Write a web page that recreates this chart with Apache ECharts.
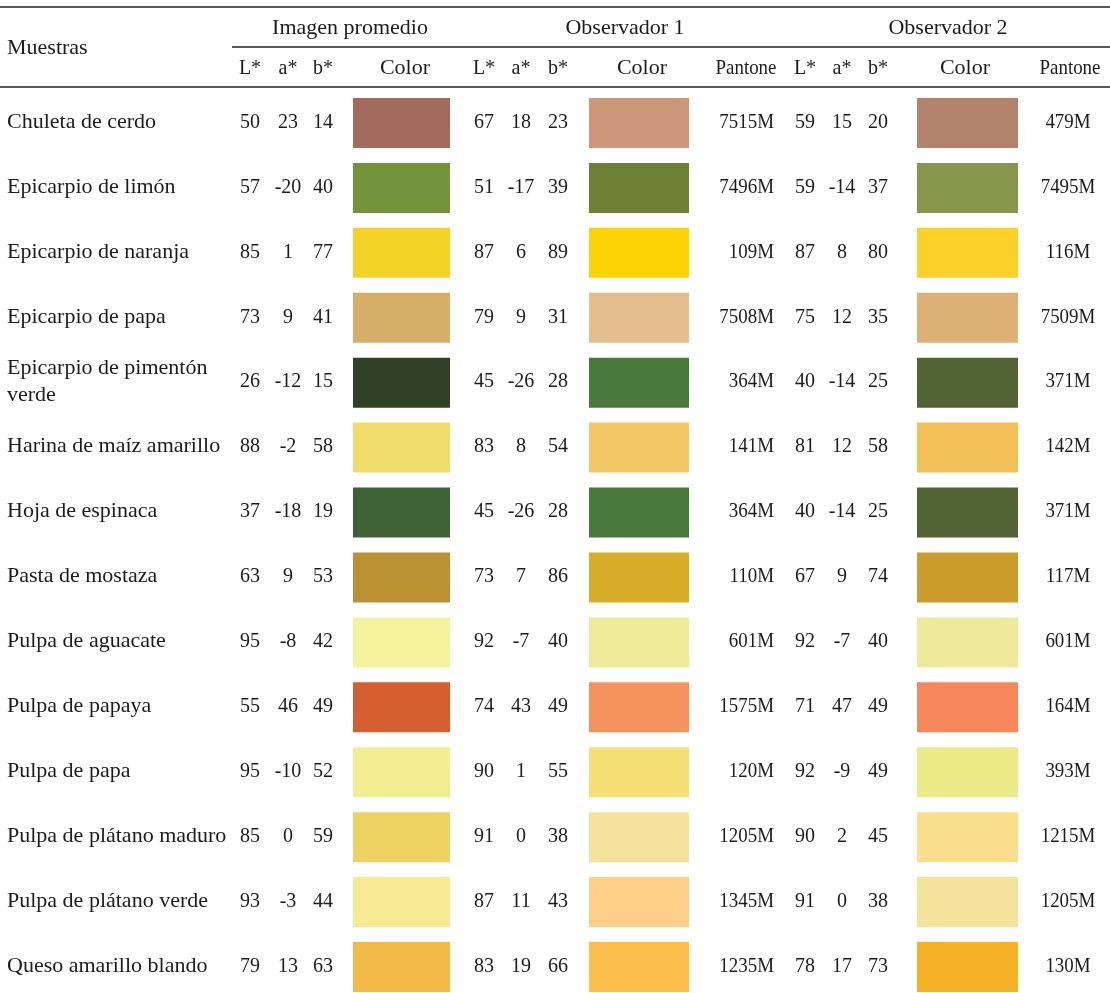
<!DOCTYPE html>
<html>
<head>
<meta charset="utf-8">
<title>Muestras - color</title>
<script src="https://cdn.jsdelivr.net/npm/echarts@6/dist/echarts.min.js"></script>
<style>
  html, body { margin: 0; padding: 0; background: #fff; }
  #chart { width: 1110px; height: 993px; }
</style>
</head>
<body>
<div id="chart"></div>
<script>
// filas
var muestras = [
  'Chuleta de cerdo', 'Epicarpio de limón', 'Epicarpio de naranja', 'Epicarpio de papa',
  'Epicarpio de pimentón\nverde', 'Harina de maíz amarillo', 'Hoja de espinaca', 'Pasta de mostaza',
  'Pulpa de aguacate', 'Pulpa de papaya', 'Pulpa de papa', 'Pulpa de plátano maduro',
  'Pulpa de plátano verde', 'Queso amarillo blando'
];

// Imagen promedio
var promL = [50, 57, 85, 73, 26, 88, 37, 63, 95, 55, 95, 85, 93, 79];
var promA = [23, -20, 1, 9, -12, -2, -18, 9, -8, 46, -10, 0, -3, 13];
var promB = [14, 40, 77, 41, 15, 58, 19, 53, 42, 49, 52, 59, 44, 63];
var promColor = ['#a36a5e', '#74933a', '#f2d326', '#d5ae68', '#304126', '#f0dc6a', '#3e6135',
  '#bb9232', '#f5f29e', '#d55f2e', '#f2ee90', '#edd462', '#f8ea92', '#f2ba47'];

// Observador 1
var obs1L = [67, 51, 87, 79, 45, 83, 45, 73, 92, 74, 90, 91, 87, 83];
var obs1A = [18, -17, 6, 9, -26, 8, -26, 7, -7, 43, 1, 0, 11, 19];
var obs1B = [23, 39, 89, 31, 28, 54, 28, 86, 40, 49, 55, 38, 43, 66];
var obs1Color = ['#cc967b', '#6d8235', '#fcd406', '#e4be8e', '#4a7a3b', '#f3c766', '#4a7a3b',
  '#d7ae28', '#eeeb99', '#f6925e', '#f6df74', '#f5e39b', '#fecf88', '#fcbd4b'];
var obs1Pantone = ['7515M', '7496M', '109M', '7508M', '364M', '141M', '364M', '110M', '601M',
  '1575M', '120M', '1205M', '1345M', '1235M'];

// Observador 2
var obs2L = [59, 59, 87, 75, 40, 81, 40, 67, 92, 71, 92, 90, 91, 78];
var obs2A = [15, -14, 8, 12, -14, 12, -14, 9, -7, 47, -9, 2, 0, 17];
var obs2B = [20, 37, 80, 35, 25, 58, 25, 74, 40, 49, 49, 45, 38, 73];
var obs2Color = ['#b2846b', '#87964a', '#fcd22a', '#ddb077', '#526334', '#f3c058', '#526334',
  '#cb9d2d', '#eeea9a', '#f6885c', '#ecea86', '#f9de8b', '#f5e39c', '#f6b227'];
var obs2Pantone = ['479M', '7495M', '116M', '7509M', '371M', '142M', '371M', '117M', '601M',
  '164M', '393M', '1215M', '1205M', '130M'];

// encabezados
var grupos = ['Imagen promedio', 'Observador 1', 'Observador 2'];
var subPromedio = ['L*', 'a*', 'b*', 'Color'];
var subObs = ['L*', 'a*', 'b*', 'Color', 'Pantone'];

var FONT = '22px "Liberation Serif", "DejaVu Serif", serif';
var TXT = '#1c1c1c';
var LINE = '#5a5a5a';
var SX_NUM = 0.91;   // numeros algo estrechos
var SX_PAN = 0.86;   // pantone mas estrecho

// posiciones de columnas (px)
var colProm = { L: 250, a: 288, b: 323, sw: [353, 450] };
var colObs1 = { L: 484, a: 521, b: 558, sw: [589, 689], pan: 774, panAlign: 'right' };
var colObs2 = { L: 805, a: 842, b: 878, sw: [917, 1018], pan: 1068, panAlign: 'center' };

var chart = echarts.init(document.getElementById('chart'));

function txt(x, y, s, align, sx) {
  return {
    type: 'text',
    x: x, y: y, scaleX: sx || 1,
    style: {
      x: 0, y: 0, text: String(s), fill: TXT, font: FONT,
      align: align || 'center', verticalAlign: 'middle', lineHeight: 27
    }
  };
}

function renderRow(params, api) {
  var i = api.value(1);
  var y = api.coord([0, i])[1];
  var h = 50;
  var kids = [];
  kids.push(txt(7, y, muestras[i], 'left', 1));
  function group(col, L, A, B, color, pan) {
    kids.push(txt(col.L, y, L[i], 'center', SX_NUM));
    kids.push(txt(col.a, y, A[i], 'center', SX_NUM));
    kids.push(txt(col.b, y, B[i], 'center', SX_NUM));
    var x0 = api.coord([col.sw[0], i])[0];
    var x1 = api.coord([col.sw[1], i])[0];
    kids.push({
      type: 'rect',
      shape: { x: x0, y: y - h / 2 + 1, width: x1 - x0, height: h },
      style: { fill: color[i] }
    });
    if (pan) kids.push(txt(col.pan, y, pan[i], col.panAlign, SX_PAN));
  }
  group(colProm, promL, promA, promB, promColor, null);
  group(colObs1, obs1L, obs1A, obs1B, obs1Color, obs1Pantone);
  group(colObs2, obs2L, obs2A, obs2B, obs2Color, obs2Pantone);
  return { type: 'group', children: kids };
}

function hline(x1, x2, y) {
  return {
    type: 'line',
    shape: { x1: x1, y1: y, x2: x2, y2: y },
    style: { stroke: LINE, lineWidth: 2 }
  };
}

var headers = [
  hline(0, 1110, 7),
  hline(232, 1110, 47),
  hline(0, 1110, 87),
  txt(7, 48, 'Muestras', 'left', 1),
  txt(350, 28, grupos[0], 'center', 1),
  txt(625, 28, grupos[1], 'center', 1),
  txt(948, 28, grupos[2], 'center', 1)
];
var subX1 = [colProm.L, colProm.a, colProm.b, 405];
subPromedio.forEach(function (s, k) { headers.push(txt(subX1[k], 68, s, 'center', k < 3 ? SX_NUM : 1)); });
var subX2 = [colObs1.L, colObs1.a, colObs1.b, 642, 746];
subObs.forEach(function (s, k) { headers.push(txt(subX2[k], 68, s, 'center', k < 3 ? SX_NUM : (k === 4 ? SX_PAN : 1))); });
var subX3 = [colObs2.L, colObs2.a, colObs2.b, 965, 1070];
subObs.forEach(function (s, k) { headers.push(txt(subX3[k], 68, s, 'center', k < 3 ? SX_NUM : (k === 4 ? SX_PAN : 1))); });

var option = {
  backgroundColor: '#fff',
  animation: false,
  grid: { left: 0, right: 0, top: 122, bottom: 27 },
  xAxis: { type: 'value', min: 0, max: 1110, show: false },
  yAxis: { type: 'value', min: 0, max: muestras.length - 1, inverse: true, show: false },
  graphic: headers,
  series: [{
    type: 'custom',
    renderItem: renderRow,
    data: muestras.map(function (m, i) { return [0, i]; }),
    encode: { x: 0, y: 1 },
    clip: false
  }]
};
chart.setOption(option);
</script>
</body>
</html>
